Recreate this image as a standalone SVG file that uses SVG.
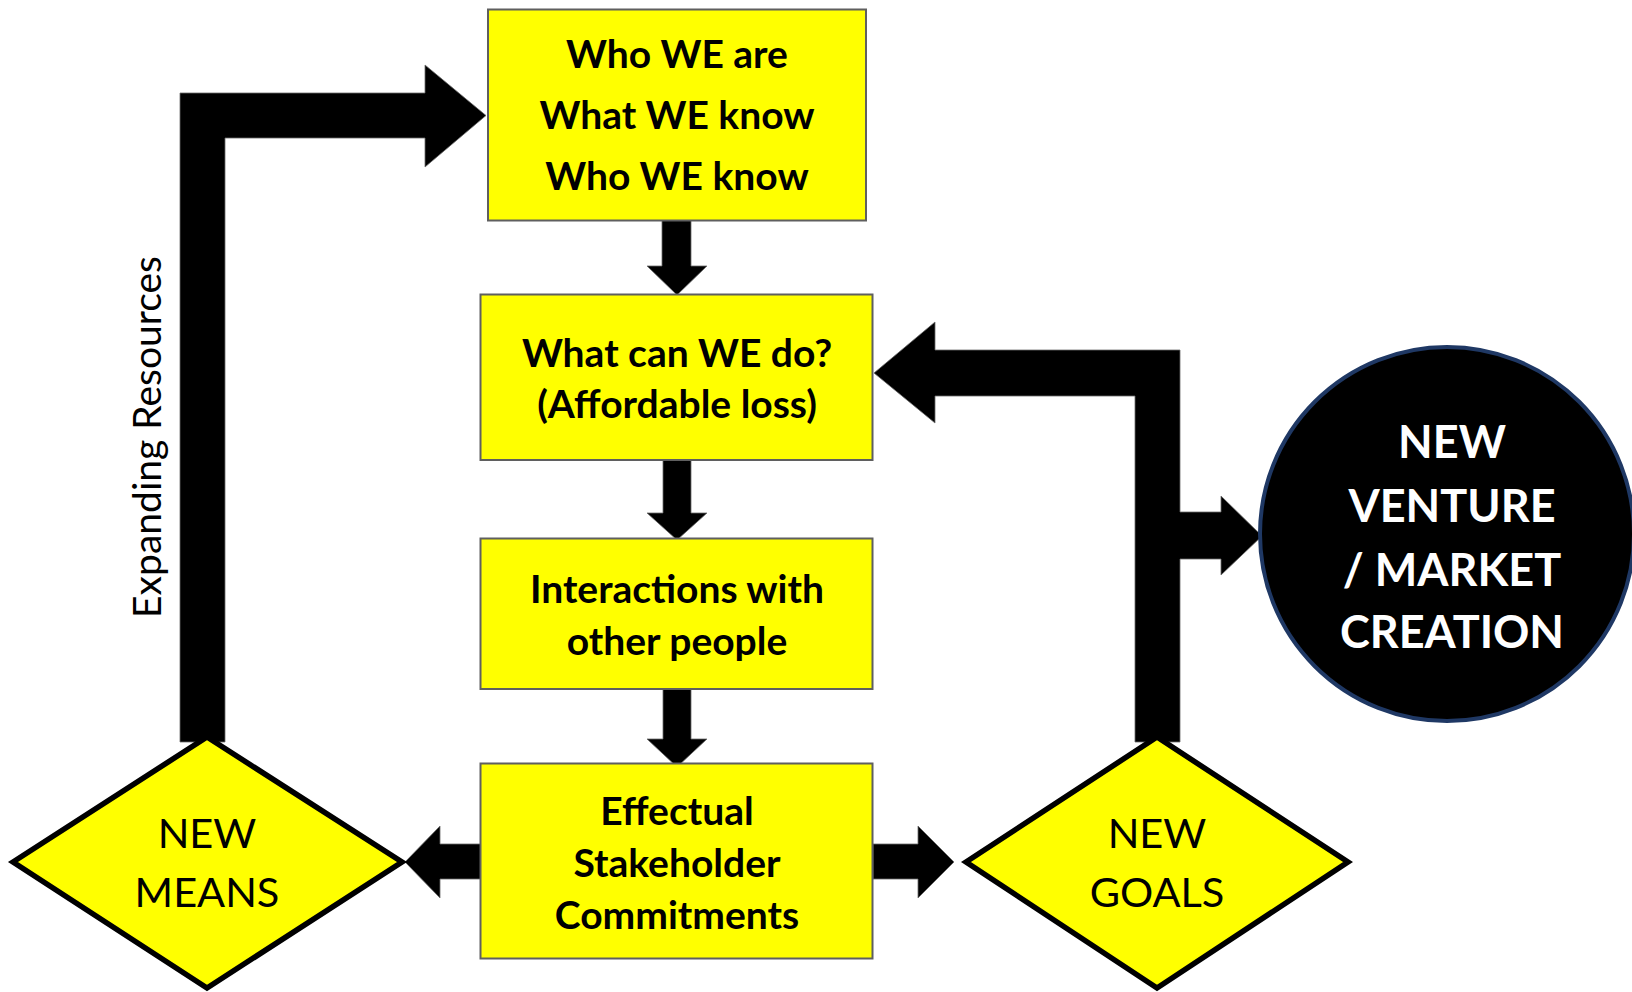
<svg xmlns="http://www.w3.org/2000/svg" width="1632" height="992" viewBox="0 0 1632 992">
  <style>
    .box { fill: #FFFF00; stroke: #5F5F5F; stroke-width: 2; }
    .dia { fill: #FFFF00; stroke: #000000; stroke-width: 5.5; stroke-linejoin: miter; }
    .arrow { fill: #000000; stroke: #6A6A6A; stroke-width: 0.8; }
    .bt { font-family: Lato, "Open Sans", sans-serif; font-weight: bold; font-size: 39px; fill: #000000; text-anchor: middle; }
    .rt { font-family: Lato, "Open Sans", sans-serif; font-size: 41.5px; fill: #000000; text-anchor: middle; }
    .ct { font-family: Lato, "Open Sans", sans-serif; font-weight: bold; font-size: 45px; fill: #FFFFFF; text-anchor: middle; }
    .side { font-family: Lato, "Open Sans", sans-serif; font-size: 39px; fill: #000000; text-anchor: middle; }
  </style>
  <rect width="1632" height="992" fill="#FFFFFF"/>

  <!-- block arrows -->
  <g id="connectors">
    <polygon class="arrow" points="180,742 180,93 425,93 425,65 486,115.5 425,167 425,138 225,138 225,742"/>
    <polygon class="arrow" points="662,218 691,218 691,266 707,266 677,295 647,266 662,266"/>
    <polygon class="arrow" points="663,460 691,460 691,513 707,513 677,540 647,513 663,513"/>
    <polygon class="arrow" points="663,689 691,689 691,739 707,739 677,767 647,739 663,739"/>
    <polygon class="arrow" points="481,844 440,844 440,826 405,862 440,898 440,879 481,879"/>
    <polygon class="arrow" points="873,844 918,844 918,826 954,862 918,898 918,879 873,879"/>
    <polygon class="arrow" points="1135,742 1135,396 935,396 935,423 874,373 935,322 935,350 1180,350 1180,512 1221,512 1221,496 1262,536 1221,575 1221,559 1180,559 1180,742"/>
    <text class="side" transform="translate(161,437) rotate(-90)">Expanding Resources</text>
  </g>

  <g id="who-we-are">
    <rect class="box" x="488" y="9.5" width="378" height="211"/>
    <text class="bt" x="677" y="68">Who WE are</text>
    <text class="bt" x="677" y="129">What WE know</text>
    <text class="bt" x="677" y="190">Who WE know</text>
  </g>

  <g id="what-can-we-do">
    <rect class="box" x="480.5" y="294.5" width="392" height="165.5"/>
    <text class="bt" x="677" y="367">What can WE do?</text>
    <text class="bt" x="677" y="418">(Affordable loss)</text>
  </g>

  <g id="interactions">
    <rect class="box" x="480.5" y="538.5" width="392" height="150.5"/>
    <text class="bt" x="677" y="603">Interactions with</text>
    <text class="bt" x="677" y="655">other people</text>
  </g>

  <g id="commitments">
    <rect class="box" x="480.5" y="763.5" width="392" height="195"/>
    <text class="bt" x="677" y="825">Effectual</text>
    <text class="bt" x="677" y="877">Stakeholder</text>
    <text class="bt" x="677" y="929">Commitments</text>
  </g>

  <g id="new-means">
    <polygon class="dia" points="13,862 207,737 402,862 207,988"/>
    <text class="rt" x="207" y="848">NEW</text>
    <text class="rt" x="207" y="907">MEANS</text>
  </g>

  <g id="new-goals">
    <polygon class="dia" points="966,862 1157,737 1348,862 1157,988"/>
    <text class="rt" x="1157" y="848">NEW</text>
    <text class="rt" x="1157" y="907">GOALS</text>
  </g>

  <g id="new-venture">
    <circle cx="1447" cy="534" r="187" fill="#000000" stroke="#1F3864" stroke-width="4"/>
    <text class="ct" x="1452" y="458">NEW</text>
    <text class="ct" x="1452" y="522">VENTURE</text>
    <text class="ct" x="1452" y="586">/ MARKET</text>
    <text class="ct" x="1452" y="648">CREATION</text>
  </g>
</svg>
